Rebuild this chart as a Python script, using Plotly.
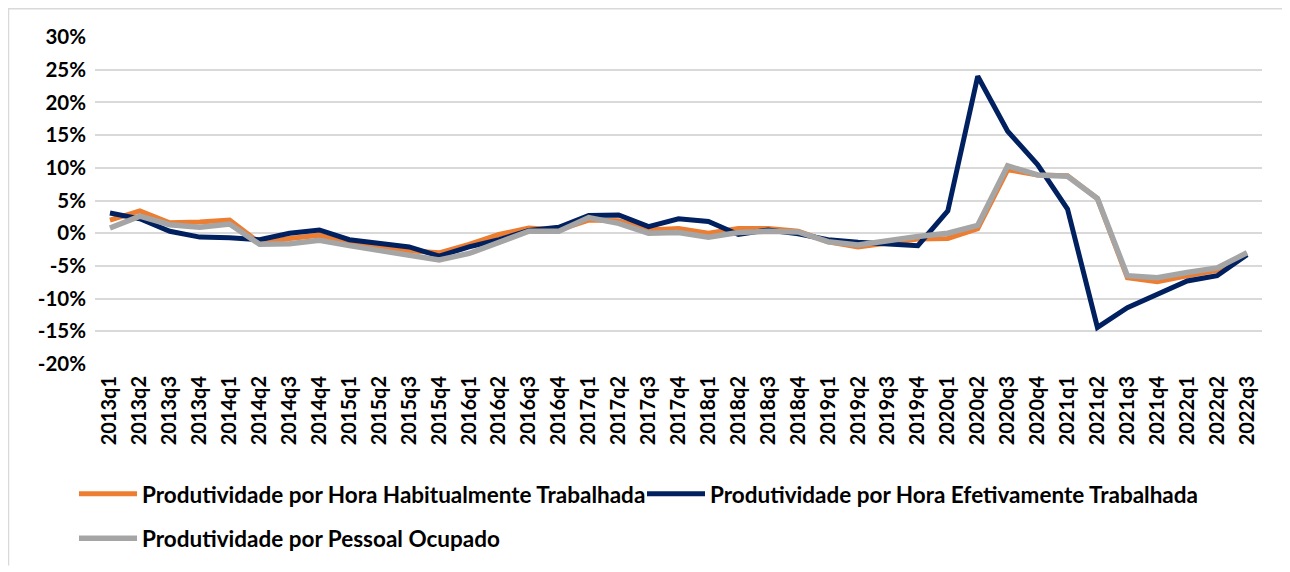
import plotly.graph_objects as go

quarters = [f"{y}q{q}" for y in range(2013, 2023) for q in range(1, 5)][:39]

habitual = [2.0, 3.4, 1.6, 1.7, 2.0, -1.5, -0.8, -0.3, -1.6, -2.2, -2.7, -3.0, -1.7,
            -0.2, 0.8, 0.5, 2.0, 1.9, 0.5, 0.7, 0.0, 0.7, 0.7, 0.3, -1.3, -2.1,
            -1.5, -0.9, -0.8, 0.7, 9.7, 8.9, 8.8, 5.3, -6.8, -7.4, -6.5, -5.7, -3.2]
efetiva = [3.1, 2.2, 0.3, -0.6, -0.7, -1.0, 0.0, 0.5, -1.0, -1.5, -2.1, -3.5, -2.1,
           -1.0, 0.4, 0.9, 2.7, 2.8, 1.0, 2.2, 1.8, -0.2, 0.5, -0.1, -1.0, -1.4,
           -1.6, -1.9, 3.4, 24.0, 15.6, 10.5, 3.7, -14.4, -11.4, -9.3, -7.3, -6.5, -3.3]
pessoal = [0.8, 2.6, 1.3, 0.9, 1.4, -1.7, -1.6, -1.1, -1.9, -2.6, -3.5, -4.1, -3.1,
           -1.3, 0.3, 0.3, 2.4, 1.5, 0.0, 0.1, -0.6, 0.1, 0.3, 0.2, -1.3, -1.8,
           -1.1, -0.5, 0.0, 1.2, 10.3, 8.9, 8.7, 5.3, -6.5, -6.8, -6.0, -5.3, -3.0]

names = ["Produtividade por Hora Habitualmente Trabalhada",
         "Produtividade por Hora Efetivamente Trabalhada",
         "Produtividade por Pessoal Ocupado"]
colors = ["#ED7D31", "#002060", "#A5A5A5"]
widths = [5, 5, 5.5]
legend_ids = ["legend", "legend", "legend2"]

y_ticks = list(range(-20, 31, 5))
y_labels = [f"{v}%" for v in y_ticks]

FONT = "Lato"

fig = go.Figure()
for vals, name, col, w, lg in zip([habitual, efetiva, pessoal], names, colors, widths, legend_ids):
    fig.add_trace(go.Scatter(x=quarters, y=vals, name=name, mode="lines",
                             line=dict(color=col, width=w), legend=lg))

# page has an 8px body margin; figure sized to fit the window
W, H = 1282, 564
ml, mr, mt, mb = 87, 28, 29, 204
pw, ph = W - ml - mr, H - mt - mb


def px(x):
    return (x - ml) / pw


def py(y):
    return 1 - (y - mt) / ph


leg_font = dict(family=FONT, size=22.5, color="black", weight="bold")
tick_font = dict(family=FONT, size=20.5, color="black", weight="bold")

fig.update_layout(
    width=W, height=H,
    margin=dict(l=ml, r=mr, t=mt, b=mb),
    paper_bgcolor="white", plot_bgcolor="white",
    font=dict(family=FONT, size=20, color="black"),
    showlegend=True,
    legend=dict(orientation="h", x=px(66), y=py(470), xanchor="left", yanchor="top",
                font=leg_font, traceorder="normal", itemwidth=58,
                entrywidth=495, entrywidthmode="pixels", bgcolor="rgba(0,0,0,0)"),
    legend2=dict(orientation="h", x=px(66), y=py(515), xanchor="left", yanchor="top",
                 font=leg_font, traceorder="normal", itemwidth=58,
                 bgcolor="rgba(0,0,0,0)"),
    xaxis=dict(type="category", tickangle=-90, showgrid=False, zeroline=False,
               showline=False, ticks="", ticklabelstandoff=7,
               tickfont=dict(family=FONT, size=20, color="black", weight="bold"),
               range=[-0.5, 38.5]),
    yaxis=dict(range=[-20, 30], tickvals=y_ticks, ticktext=y_labels,
               showgrid=True, gridcolor="#D9D9D9", gridwidth=1.5, zeroline=False,
               showline=False, ticks="", ticklabelstandoff=8,
               tickfont=tick_font),
    shapes=[
        dict(type="line", xref="paper", yref="paper", x0=px(0), x1=px(W), y0=py(0.5), y1=py(0.5),
             line=dict(color="#D9D9D9", width=1.5), layer="below"),
        dict(type="line", xref="paper", yref="paper", x0=px(0.5), x1=px(0.5), y0=py(0), y1=py(H),
             line=dict(color="#D9D9D9", width=1.5), layer="below"),
    ],
)

fig.write_html("out.html")
